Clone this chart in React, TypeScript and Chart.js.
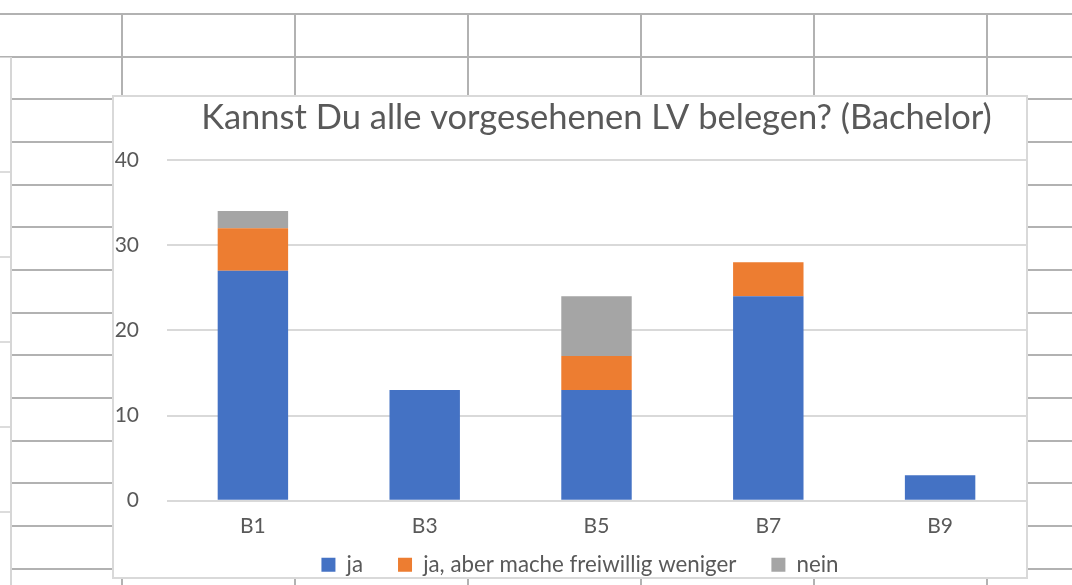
import React, { useEffect, useRef } from "react";
import { Chart, registerables } from "chart.js";

Chart.register(...registerables);

const categories = ["B1", "B3", "B5", "B7", "B9"];
const seriesNames = ["ja", "ja, aber mache freiwillig weniger", "nein"];
const jaValues = [27, 13, 13, 24, 3];
const jaAberValues = [5, 0, 4, 4, 0];
const neinValues = [2, 0, 7, 0, 0];
const yTicks = [0, 10, 20, 30, 40];
const titleText = "Kannst Du alle vorgesehenen LV belegen? (Bachelor)";

const FONT = "Lato, 'Noto Sans', sans-serif";
const TEXT = "#595959";

function SheetBackground() {
  const els: React.ReactNode[] = [];
  const lineColor = "#b2b2b2";
  for (let k = 0; k < 14; k++) {
    const y = 14 + k * 42.67;
    els.push(
      <div
        key={"h" + k}
        style={{
          position: "absolute",
          left: k < 2 ? 0 : 11,
          top: Math.round(y) - 1,
          width: k < 2 ? 1072 : 1061,
          height: 2,
          background: lineColor,
        }}
      />
    );
  }
  for (let j = 0; j < 6; j++) {
    const x = 122 + j * 173;
    els.push(
      <div
        key={"v" + j}
        style={{
          position: "absolute",
          left: x - 1,
          top: 14,
          width: 2,
          height: 571,
          background: lineColor,
        }}
      />
    );
  }
  els.push(
    <div
      key="pane"
      style={{
        position: "absolute",
        left: 0,
        top: 57,
        width: 10,
        height: 528,
        background: "#ffffff",
        borderRight: "2px solid #d6d6d6",
        borderTop: "1px solid #d6d6d6",
      }}
    />
  );
  for (let m = 0; m < 5; m++) {
    const y = 171.7 + m * 85;
    els.push(
      <div
        key={"p" + m}
        style={{
          position: "absolute",
          left: 0,
          top: Math.round(y) - 1,
          width: 10,
          height: 2,
          background: "#dcdcdc",
        }}
      />
    );
  }
  return <>{els}</>;
}

const layoutTweak = {
  id: "layoutTweak",
  afterLayout(chart: any) {
    if (chart.legend) {
      chart.legend.left += 20;
    }
    const x = chart.scales && chart.scales.x;
    if (x) {
      x.bottom = x.top + 60;
    }
  },
};

export default function App() {
  const canvasRef = useRef<HTMLCanvasElement | null>(null);

  useEffect(() => {
    const canvas = canvasRef.current;
    if (!canvas) return;
    const chart = new Chart(canvas, {
      type: "bar",
      data: {
        labels: categories,
        datasets: [
          { label: seriesNames[0], data: jaValues, backgroundColor: "#4472c4" },
          { label: seriesNames[1], data: jaAberValues, backgroundColor: "#ed7d31" },
          { label: seriesNames[2], data: neinValues, backgroundColor: "#a5a5a5" },
        ],
      },
      plugins: [layoutTweak],
      options: {
        animation: false,
        responsive: false,
        maintainAspectRatio: false,
        layout: { padding: { left: 0, right: 0, top: 0, bottom: -9 } },
        datasets: {
          bar: { barPercentage: 0.41, categoryPercentage: 1, borderWidth: 0 },
        },
        plugins: {
          title: {
            display: true,
            text: titleText,
            fullSize: false,
            color: TEXT,
            font: { family: FONT, size: 34.5, weight: "normal" },
            padding: { top: 0, bottom: 21.6 },
          },
          legend: {
            position: "bottom",
            labels: {
              color: TEXT,
              font: { family: FONT, size: 22.3 },
              boxWidth: 14,
              boxHeight: 14,
              padding: 35,
            },
          },
          tooltip: { enabled: false },
        },
        scales: {
          x: {
            stacked: true,
            afterFit: (scale: any) => {
              scale.height = 18;
            },
            grid: { display: false, drawTicks: false },
            border: { display: false },
            ticks: {
              color: TEXT,
              font: { family: FONT, size: 21 },
              padding: 13,
            },
          },
          y: {
            stacked: true,
            min: 0,
            max: 40,
            afterBuildTicks: (scale: any) => {
              scale.ticks = yTicks.map((v) => ({ value: v }));
            },
            afterFit: (scale: any) => {
              scale.width = 53;
            },
            grid: { color: "#d9d9d9", lineWidth: 2, drawTicks: false },
            border: { display: false },
            ticks: {
              color: TEXT,
              font: { family: FONT, size: 21 },
              padding: 28,
            },
          },
        },
      },
    });
    return () => chart.destroy();
  }, []);

  return (
    <div
      style={{
        position: "fixed",
        left: 0,
        top: 0,
        width: 1072,
        height: 585,
        overflow: "hidden",
        background: "#ffffff",
      }}
    >
      <SheetBackground />
      <div
        style={{
          position: "absolute",
          left: 112,
          top: 95,
          width: 916,
          height: 484,
          boxSizing: "border-box",
          border: "2px solid #d9d9d9",
          background: "#ffffff",
        }}
      >
        <canvas ref={canvasRef} width={912} height={480} style={{ display: "block", width: 912, height: 480 }} />
      </div>
    </div>
  );
}
